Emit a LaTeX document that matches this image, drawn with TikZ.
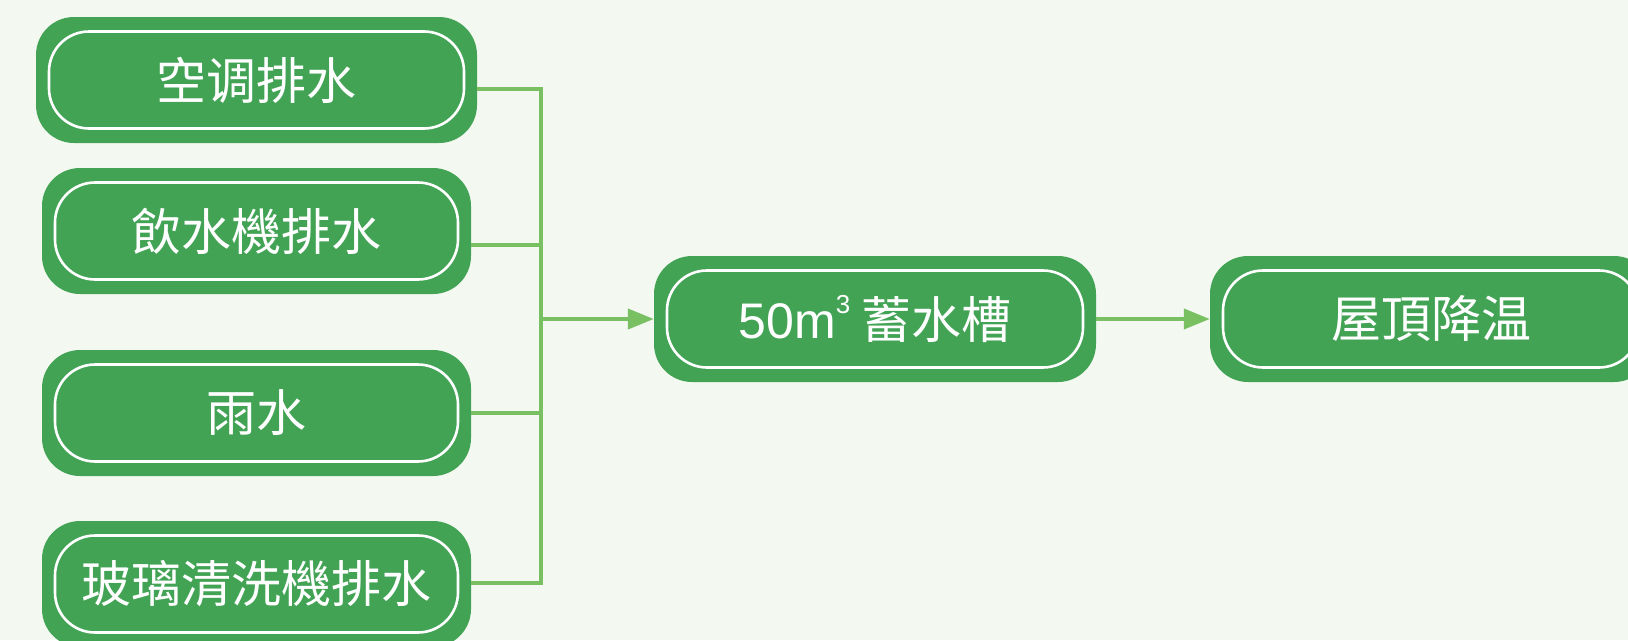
\documentclass[tikz,border=0pt]{standalone}
\usepackage{fontspec}
\setmainfont{Noto Sans CJK TC}
\newfontfamily\latinfont{Liberation Sans}
\usetikzlibrary{arrows.meta}
\definecolor{paper}{HTML}{F3F8F1}
\definecolor{boxgreen}{HTML}{42A355}
\definecolor{linkgreen}{HTML}{79C063}

\tikzset{
  stage/.style={rectangle, rounded corners=38pt, fill=boxgreen, text=white,
    minimum height=126pt, inner sep=0pt, font=\fontsize{50}{58}\selectfont,
    path picture={\draw[white, line width=2.6pt, rounded corners=40pt]
      ([shift={(13pt,-14.5pt)}]path picture bounding box.north west) rectangle
      ([shift={(-13pt,14.5pt)}]path picture bounding box.south east);}},
  link/.style={draw=linkgreen, line width=4pt},
  tip/.style={-{Triangle[length=26pt,width=20pt]}}
}

\begin{document}
\begin{tikzpicture}[x=1pt,y=-1pt]
\fill[paper] (0,0) rectangle (1628,640);
\useasboundingbox (0,0) rectangle (1628,640);
\clip (0,0) rectangle (1628,640);
% Sources
\node[stage, minimum width=441pt] (aircon) at (256.5,80) {空调排水};
\node[stage, minimum width=429pt] (dispenser) at (256.5,231) {飲水機排水};
\node[stage, minimum width=429pt] (rain) at (256.5,413) {雨水};
\node[stage, minimum width=429pt] (glass) at (256.5,584) {玻璃清洗機排水};
% Tank and use
\node[stage, minimum width=442pt] (tank) at (875,319)
  {{\latinfont 50m\raisebox{0.5em}{\fontsize{26}{30}\selectfont 3}} 蓄水槽};
\node[stage, minimum width=442pt] (roof) at (1431,319) {屋頂降温};
\coordinate (junc) at (541,319);
\draw[link] ([yshift=-9pt]aircon.east) -| (junc);
\draw[link] ([yshift=-14pt]dispenser.east) -| (junc);
\draw[link] (rain.east) -| (junc);
\draw[link] ([yshift=1.5pt]glass.east) -| (junc);
\draw[link, tip] (junc) -- (tank);
\draw[link, tip] (tank) -- (roof);
\end{tikzpicture}
\end{document}
